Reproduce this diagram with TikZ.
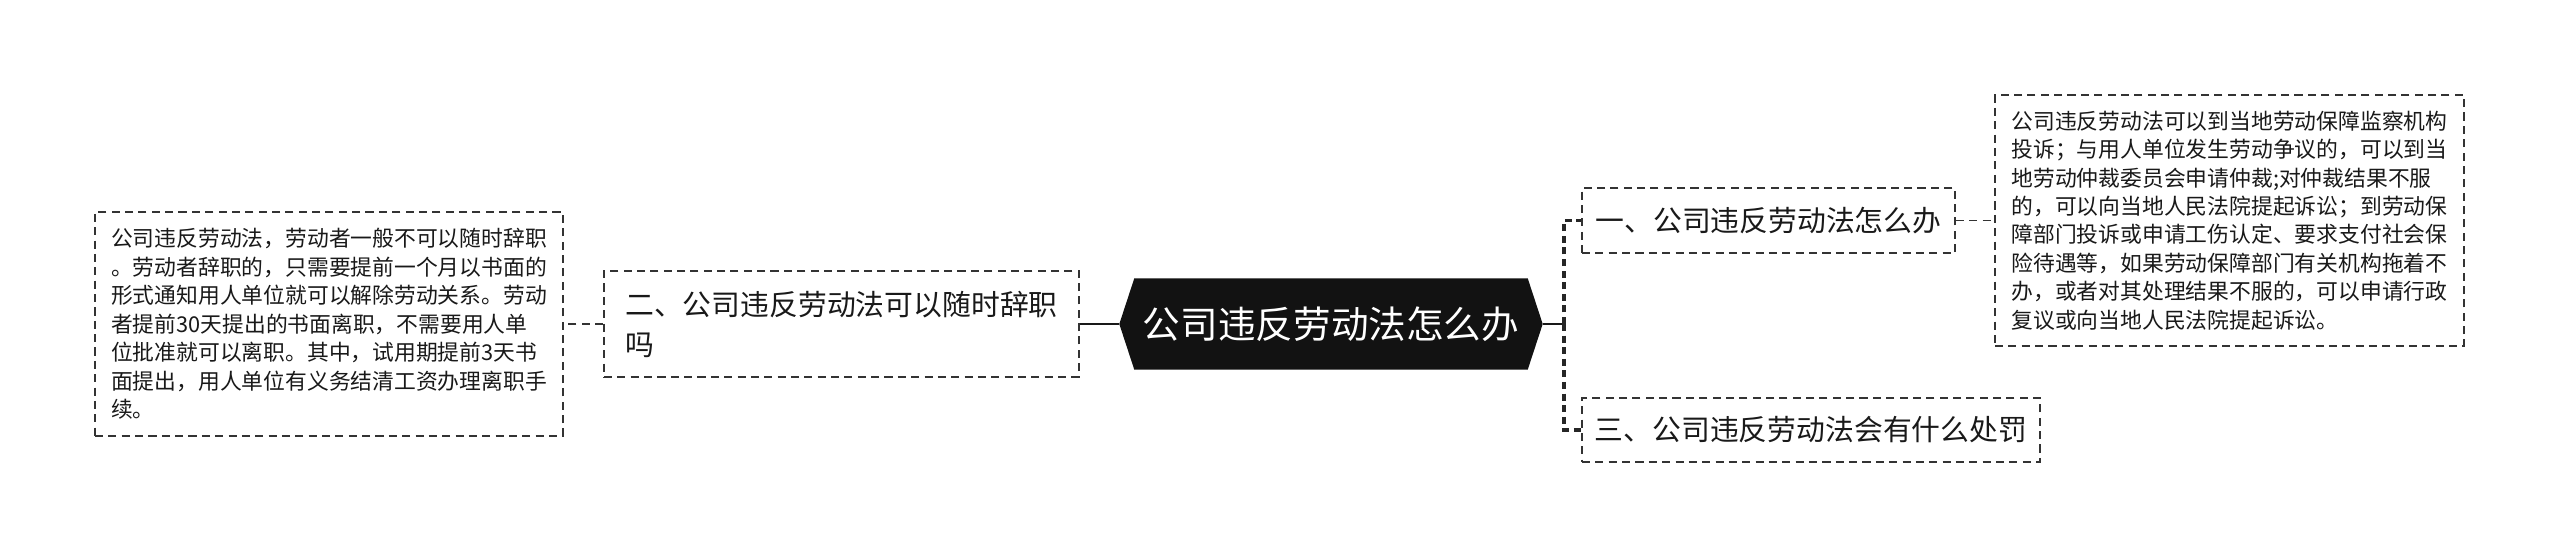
\documentclass[tikz,border=0pt]{standalone}
\usepackage{fontspec}
\setmainfont{Noto Sans CJK SC}
\usetikzlibrary{backgrounds}

\tikzset{
  box/.style={draw=black!80, line width=0.55pt, dash pattern=on 2.3pt off 1.5pt,
    inner sep=0pt, align=left, text=black!90},
  leaf/.style={box, font=\fontsize{6.2}{8.1}\selectfont},
  branch/.style={box, font=\fontsize{8.2}{11.4}\selectfont},
  topic/.style={inner sep=0pt, text=white, font=\fontsize{10.7}{12}\selectfont,
    minimum width=3.92cm, minimum height=0.9cm},
  link/.style={draw=black!80, line width=0.55pt, dash pattern=on 2.3pt off 1.5pt},
  forklink/.style={draw=black!85, line width=0.9pt, dash pattern=on 2pt off 1.3pt},
}

\begin{document}
\begin{tikzpicture}[x=1cm,y=-1cm]
	\useasboundingbox (0,0) rectangle (25.6,5.57);
	% centre topic
	\node[topic] (root) at (13.31,3.24) {公司违反劳动法怎么办};
	\coordinate (rootL) at ([xshift=-0.15cm]root.west);
	\coordinate (rootR) at ([xshift=0.15cm]root.east);
	\coordinate (fork) at (15.64,3.24);
	\begin{scope}[on background layer]
		\fill[white] (0,0) rectangle (25.6,5.57);
		\fill[black!93] (rootL) -- (root.north west) -- (root.north east) -- (rootR)
			-- (root.south east) -- (root.south west) -- cycle;
	\end{scope}
	% branches
	\node[branch, minimum width=4.75cm, minimum height=1.06cm] (q2) at (8.415,3.24)
		{二、公司违反劳动法可以随时辞职\\吗};
	\node[branch, minimum width=3.73cm, minimum height=0.65cm] (q1) at (17.685,2.205)
		{一、公司违反劳动法怎么办};
	\node[branch, minimum width=4.58cm, minimum height=0.64cm] (q3) at (18.11,4.30)
		{三、公司违反劳动法会有什么处罚};
	% leaves
	\node[leaf, minimum width=4.68cm, minimum height=2.24cm] (a2) at (3.29,3.24)
		{公司违反劳动法，劳动者一般不可以随时辞职\\
		。劳动者辞职的，只需要提前一个月以书面的\\
		形式通知用人单位就可以解除劳动关系。劳动\\
		者提前30天提出的书面离职，不需要用人单\\
		位批准就可以离职。其中，试用期提前3天书\\
		面提出，用人单位有义务结清工资办理离职手\\
		续。};
	\node[leaf, minimum width=4.69cm, minimum height=2.51cm] (a1) at (22.295,2.205)
		{公司违反劳动法可以到当地劳动保障监察机构\\
		投诉；与用人单位发生劳动争议的，可以到当\\
		地劳动仲裁委员会申请仲裁;对仲裁结果不服\\
		的，可以向当地人民法院提起诉讼；到劳动保\\
		障部门投诉或申请工伤认定、要求支付社会保\\
		险待遇等，如果劳动保障部门有关机构拖着不\\
		办，或者对其处理结果不服的，可以申请行政\\
		复议或向当地人民法院提起诉讼。};
	% connectors
	\draw[black!90, line width=0.8pt] (rootL) -- (q2.east);
	\draw[black!90, line width=0.8pt] (rootR) -- (fork);
	\draw[forklink] (fork) |- (q1.west);
	\draw[forklink] (fork) |- (q3.west);
	\draw[link] (q2.west) -- (a2.east);
	\draw[link] (q1.east) -- (a1.west);
\end{tikzpicture}
\end{document}
